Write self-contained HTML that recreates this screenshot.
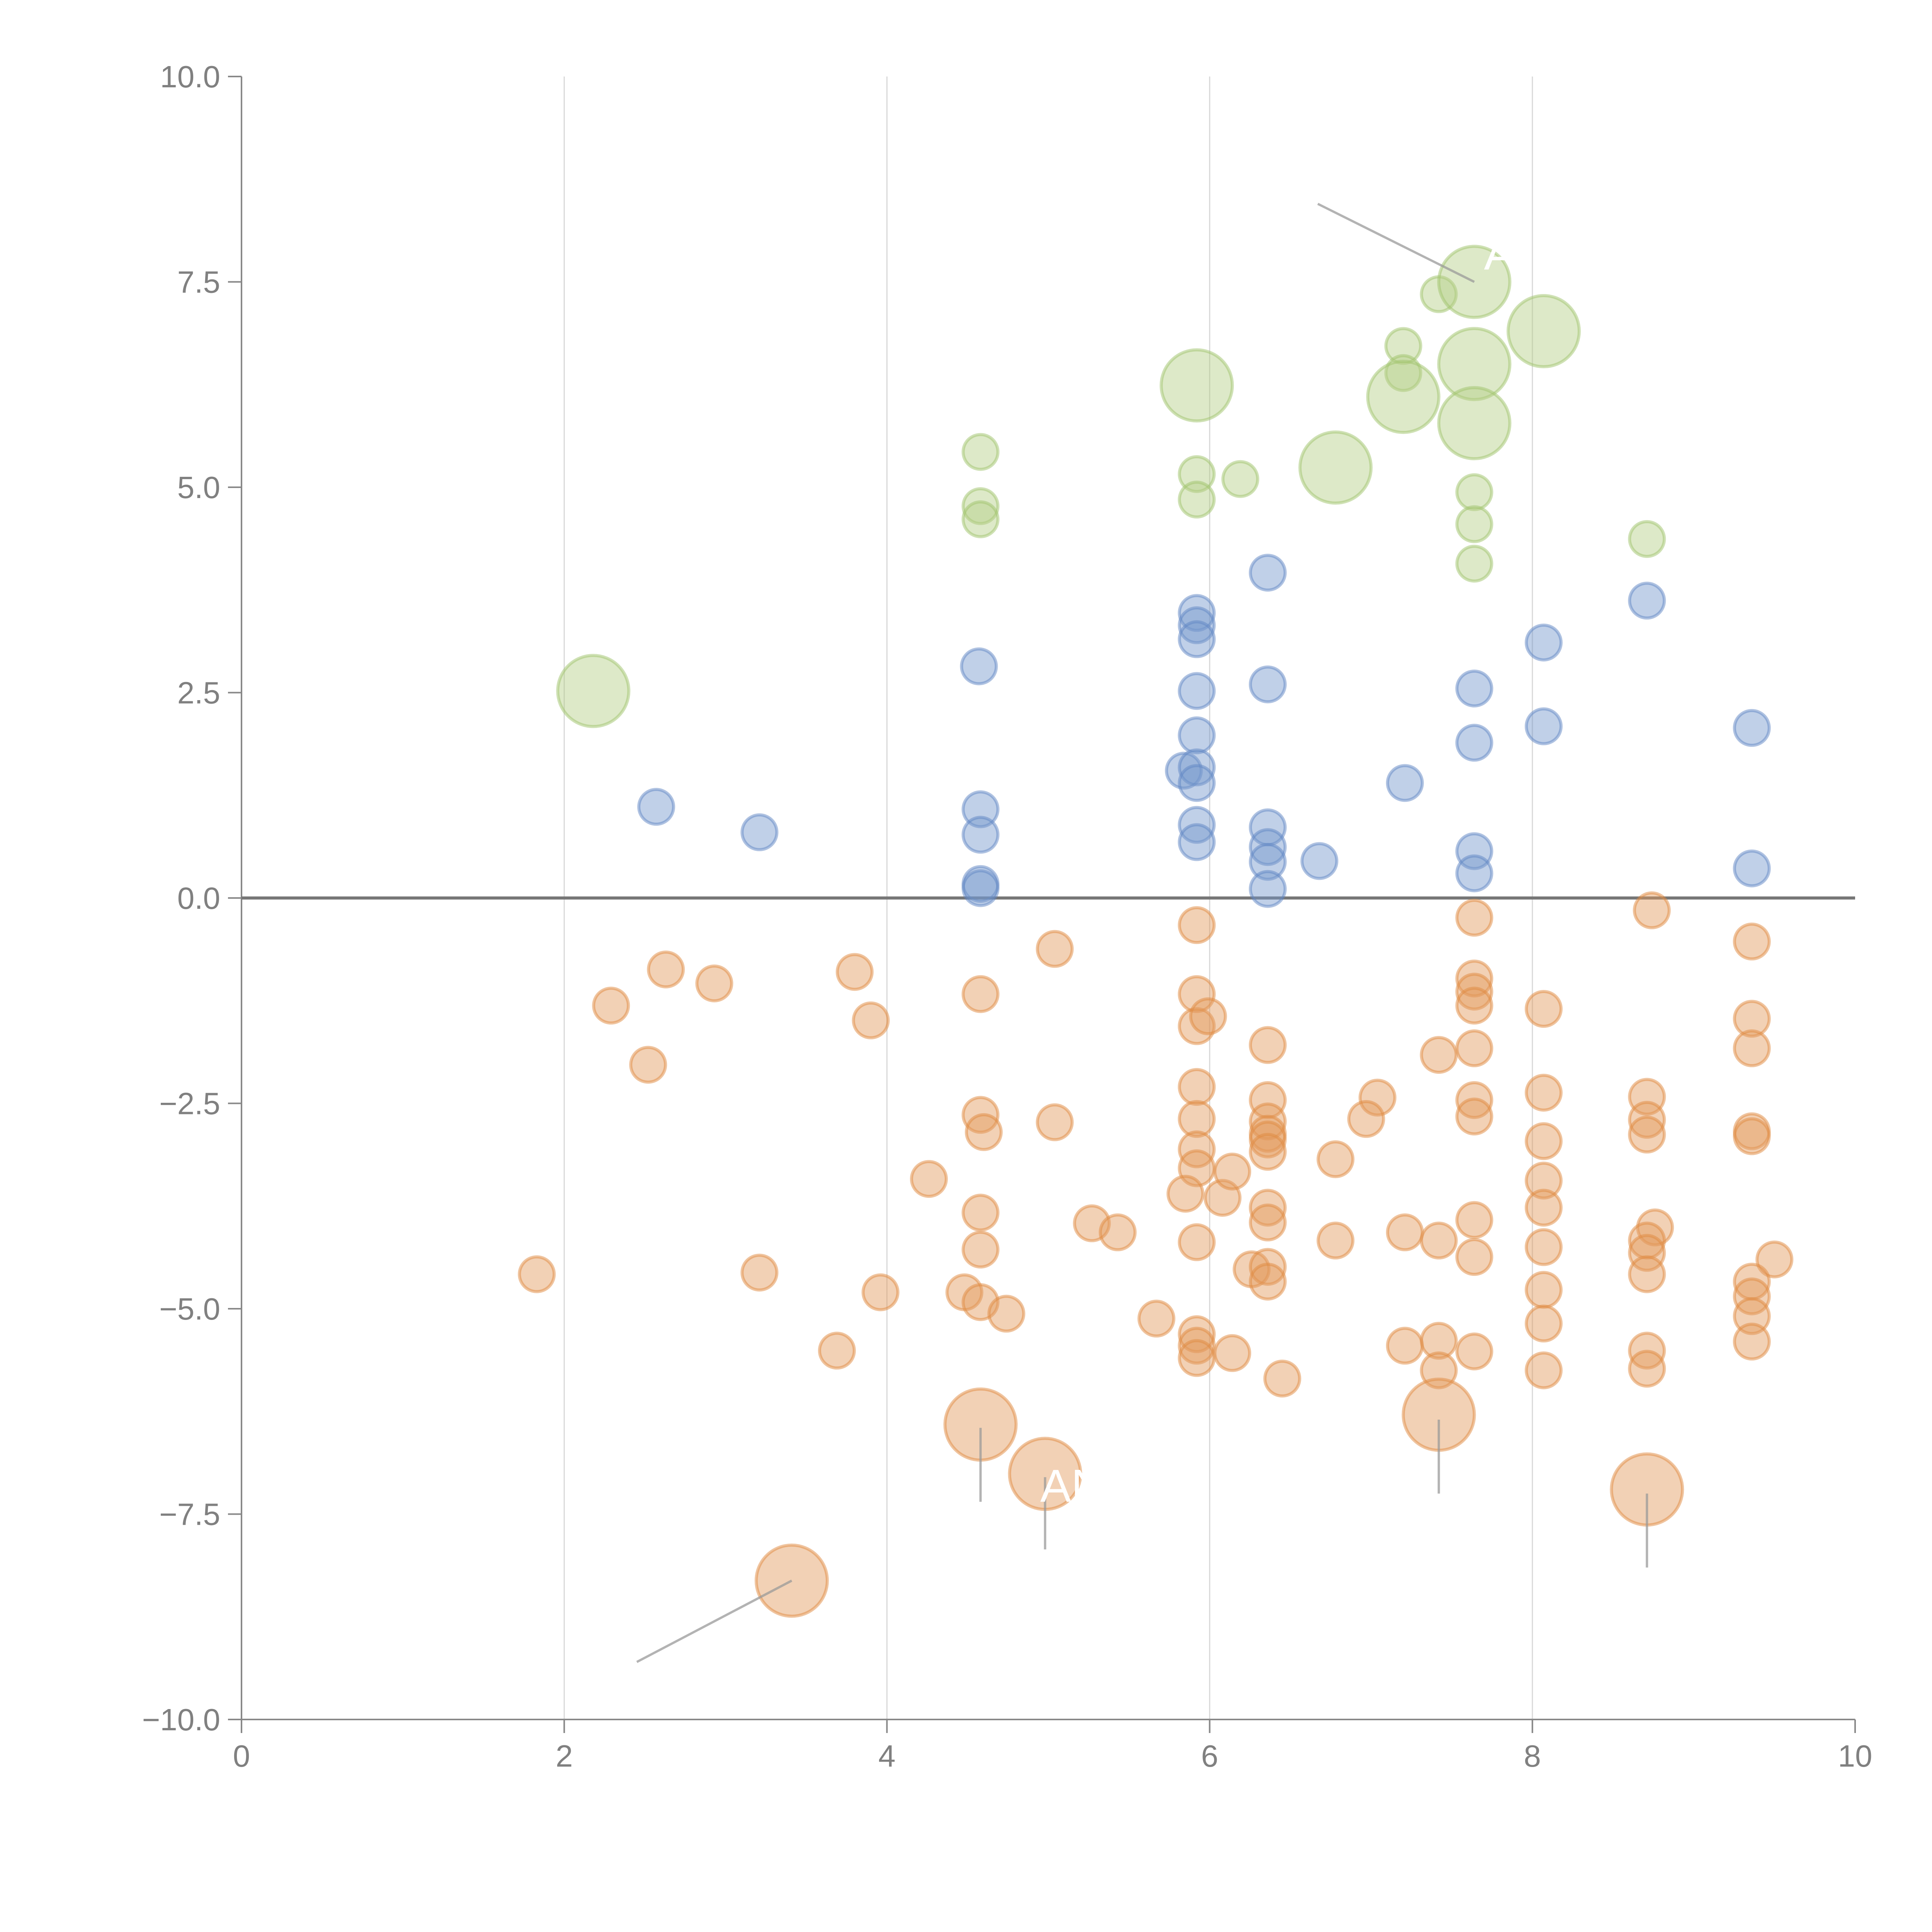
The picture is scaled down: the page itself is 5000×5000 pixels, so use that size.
<!DOCTYPE html>
<html><head><meta charset="utf-8"><style>
html,body{margin:0;padding:0;background:#fff;}
svg{display:block;font-family:"Liberation Sans",Arial,sans-serif;}
</style></head><body>
<svg id="chart" width="5000" height="5000" viewBox="0 0 5000 5000" xmlns="http://www.w3.org/2000/svg">
<g id="grid"></g>
<g id="axes"></g>
<g id="marks"></g>
<g id="annot"></g>
</svg>
<script>
const xTicks=[0,2,4,6,8,10];
const yTicks=[-10,-7.5,-5,-2.5,0,2.5,5,7.5,10];
const yTickLabels=["\u221210.0","\u22127.5","\u22125.0","\u22122.5","0.0","2.5","5.0","7.5","10.0"];
const greenX=[2.18,4.58,4.58,4.58,5.92,5.92,5.92,6.19,6.78,7.2,7.2,7.2,7.42,7.64,7.64,7.64,7.64,7.64,7.64,8.07,8.71];
const greenY=[2.52,5.43,4.77,4.61,6.24,5.16,4.85,5.10,5.24,6.72,6.39,6.1,7.35,7.5,6.5,5.78,4.94,4.55,4.07,6.9,4.37];
const greenS=[2,1,1,1,2,1,1,1,2,1,1,2,1,2,2,2,1,1,1,2,1];
const blueX=[2.57,3.21,4.57,4.58,4.58,4.58,4.58,5.92,5.92,5.92,5.92,5.92,5.84,5.92,5.92,5.92,5.92,6.36,6.36,6.36,6.36,6.36,6.36,6.68,7.21,7.64,7.64,7.64,7.64,8.07,8.07,8.71,9.36,9.36];
const blueY=[1.11,0.80,2.82,1.08,0.77,0.17,0.12,3.47,3.32,3.15,2.52,1.98,1.55,1.59,1.40,0.89,0.68,3.96,2.60,0.86,0.62,0.44,0.11,0.45,1.40,2.55,1.89,0.57,0.30,3.11,2.09,3.62,2.07,0.36];
const orangeX=[1.83,2.29,2.52,2.63,2.93,3.21,3.41,3.69,3.80,3.90,3.96,4.26,4.48,4.58,4.58,4.60,4.58,4.58,4.58,4.58,4.74,5.04,5.04,4.98,5.27,5.43,5.67,5.92,5.92,5.92,5.99,5.92,5.92,5.92,5.92,5.85,6.08,6.14,5.92,5.92,5.92,5.92,6.14,6.36,6.36,6.36,6.36,6.36,6.36,6.36,6.36,6.26,6.36,6.36,6.45,6.78,6.78,7.04,6.97,7.21,7.21,7.42,7.42,7.42,7.42,7.42,7.64,7.64,7.64,7.64,7.64,7.64,7.64,7.64,7.64,7.64,8.07,8.07,8.07,8.07,8.07,8.07,8.07,8.07,8.07,8.74,8.71,8.71,8.71,8.76,8.71,8.71,8.71,8.71,8.71,8.71,9.36,9.36,9.36,9.36,9.36,9.50,9.36,9.36,9.36,9.36];
const orangeY=[-4.58,-1.31,-2.03,-0.87,-1.04,-4.56,-8.31,-5.51,-0.90,-1.49,-4.80,-3.42,-4.80,-1.17,-2.64,-2.85,-3.83,-4.28,-4.92,-6.41,-5.06,-0.62,-2.73,-7.01,-3.96,-4.07,-5.12,-0.33,-1.17,-1.56,-1.44,-2.30,-2.69,-3.06,-3.29,-3.60,-3.65,-3.33,-4.19,-5.31,-5.45,-5.60,-5.54,-1.79,-2.46,-2.72,-2.87,-2.94,-3.09,-3.77,-3.95,-4.52,-4.49,-4.67,-5.85,-3.18,-4.17,-2.43,-2.69,-4.07,-5.45,-1.91,-4.17,-5.39,-5.75,-6.29,-0.24,-0.98,-1.14,-1.31,-1.83,-2.46,-2.66,-3.92,-4.37,-5.52,-1.35,-2.37,-2.96,-3.44,-3.77,-4.25,-4.77,-5.18,-5.75,-0.15,-2.42,-2.70,-2.88,-4.01,-4.17,-4.32,-4.58,-5.51,-5.73,-7.20,-0.53,-1.47,-1.83,-2.84,-2.90,-4.40,-4.67,-4.85,-5.09,-5.40];
const orangeBig=[6,19,23,65,95];

const NS="http://www.w3.org/2000/svg";
const X0=625,X1=4801,Y0=4450,Y1=198;
function sx(v){return X0+(v-0)/(10-0)*(X1-X0);}
function sy(v){return Y0-(v+10)/20*(Y0-Y1);}
function mk(tag,attrs,parent){const e=document.createElementNS(NS,tag);for(const k in attrs)e.setAttribute(k,attrs[k]);parent.appendChild(e);return e;}
const grid=document.getElementById('grid'),axes=document.getElementById('axes'),marks=document.getElementById('marks'),annot=document.getElementById('annot');

xTicks.forEach(t=>{
  if(t>0&&t<10){const g=mk('line',{x1:sx(t),x2:sx(t),y1:Y1,y2:Y0,stroke:'#d8d8d8','stroke-width':3},grid);
  
  }
  const tk=mk('line',{x1:sx(t),x2:sx(t),y1:Y0,y2:Y0+35,stroke:'#888','stroke-width':4},axes);
  
  
  const tx=mk('text',{x:sx(t),y:Y0+122,'text-anchor':'middle','font-size':80,fill:'#808080'},axes);
  tx.textContent=String(t);
  
  
});
yTicks.forEach((t,i)=>{
  const tk=mk('line',{x1:X0-35,x2:X0,y1:sy(t),y2:sy(t),stroke:'#888','stroke-width':4},axes);
  
  
  const tx=mk('text',{x:X0-55,y:sy(t)+28,'text-anchor':'end','font-size':80,fill:'#808080'},axes);
  tx.textContent=yTickLabels[i];
  
  
});
let a=mk('line',{x1:X0,x2:X0,y1:Y1,y2:Y0,stroke:'#888','stroke-width':4},axes);


a=mk('line',{x1:X0,x2:X1,y1:Y0,y2:Y0,stroke:'#888','stroke-width':4},axes);


a=mk('line',{x1:X0,x2:X1,y1:sy(0),y2:sy(0),stroke:'#777','stroke-width':8},axes);



function dot(x,y,big,fill,stroke,name){
  const c=mk('circle',{cx:sx(x),cy:sy(y),r:big?92:45,fill:fill,'fill-opacity':0.45,stroke:stroke,'stroke-opacity':0.5,'stroke-width':8},marks);
  
  
}
orangeX.forEach((x,i)=>dot(x,orangeY[i],orangeBig.includes(i),'#e39a5c','#e08a40','bubble-negative'));
blueX.forEach((x,i)=>dot(x,blueY[i],false,'#7396cc','#5f86c4','bubble-positive'));
greenX.forEach((x,i)=>dot(x,greenY[i],greenS[i]===2,'#b3cf86','#a0c46c','bubble-top'));

const leaders=[[6.67,8.45,7.64,7.5],[2.45,-9.3,3.41,-8.31],[4.58,-6.45,4.58,-7.35],[4.98,-7.05,4.98,-7.93],[7.42,-6.35,7.42,-7.25],[8.71,-7.25,8.71,-8.15]];
leaders.forEach(l=>{
  const ln=mk('line',{x1:sx(l[0]),y1:sy(l[1]),x2:sx(l[2]),y2:sy(l[3]),stroke:'#999','stroke-opacity':0.75,'stroke-width':6},annot);
  
  
});
const labs=[[7.7,7.65,'A'],[4.95,-7.35,'AN']];
labs.forEach(l=>{
  const t=mk('text',{x:sx(l[0]),y:sy(l[1]),'font-size':120,fill:'#fff'},annot);
  t.textContent=l[2];
  
  
});
</script>
</body></html>
